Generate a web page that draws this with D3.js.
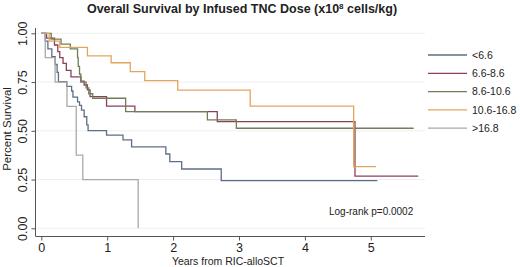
<!DOCTYPE html>
<html>
<head>
<meta charset="utf-8">
<script src="https://cdn.jsdelivr.net/npm/d3@7"></script>
<style>
  body { margin: 0; background: #fff; }
  svg text { font-family: "Liberation Sans", Arial, sans-serif; fill: #222; }
</style>
</head>
<body>
<div id="chart"></div>
<script>
// Kaplan-Meier steps: [years, survival]
const groupNames = ["<6.6", "6.6-8.6", "8.6-10.6", "10.6-16.8", ">16.8"];
const groupColors = ["#5d6e88", "#8c4159", "#707d57", "#e3a55c", "#a9a9a9"];

const stepsLow = [[0,1],[0.06,0.96],[0.10,0.92],[0.16,0.88],[0.21,0.84],[0.24,0.80],[0.26,0.752],
  [0.385,0.728],[0.46,0.704],[0.48,0.673],[0.55,0.648],[0.58,0.63],[0.61,0.606],[0.65,0.572],
  [0.69,0.53],[0.71,0.501],[0.99,0.478],[1.24,0.453],[1.37,0.418],[1.89,0.381],[1.95,0.342],
  [2.13,0.304],[2.73,0.244],[5.10,0.244]];
const stepsMid = [[0,1],[0.08,0.975],[0.20,0.94],[0.25,0.906],[0.28,0.875],[0.33,0.846],[0.38,0.81],
  [0.45,0.777],[0.60,0.755],[0.65,0.735],[0.70,0.71],[0.74,0.675],[0.99,0.627],[1.42,0.598],
  [2.67,0.547],[4.76,0.268],[5.72,0.268]];
const stepsHigh = [[0,1],[0.15,0.97],[0.30,0.945],[0.44,0.92],[0.55,0.875],[0.56,0.83],[0.58,0.79],
  [0.60,0.75],[0.68,0.72],[0.72,0.69],[0.78,0.667],[1.28,0.598],[2.52,0.556],[2.96,0.513],[5.65,0.513]];
const stepsHigher = [[0,1],[0.12,0.96],[0.28,0.928],[0.70,0.884],[1.06,0.849],[1.35,0.803],
  [1.57,0.757],[2.07,0.709],[3.17,0.627],[4.74,0.316],[5.08,0.316]];
const stepsTop = [[0,1],[0.06,0.875],[0.21,0.75],[0.39,0.625],[0.53,0.375],[0.63,0.25],[1.47,0],[1.47,0]];

const xTicks = [0, 1, 2, 3, 4, 5];
const yTicks = [0, 0.25, 0.5, 0.75, 1];

const allSteps = [stepsLow, stepsMid, stepsHigh, stepsHigher, stepsTop];

const W = 520, H = 267;
const svg = d3.select("#chart").append("svg").attr("width", W).attr("height", H);

// scales: 0 yr at x=41, 5 yr at x=371 ; 1.0 at y=33, 0 at y=228
const x = d3.scaleLinear().domain([0, 5]).range([41.3, 370.8]);
const y = d3.scaleLinear().domain([0, 1]).range([228.3, 33.3]);

const plotLeft = 35.5, plotRight = 425, axisY = 236.5;

// gridlines
svg.append("g").selectAll("line").data(yTicks).enter().append("line")
  .attr("x1", plotLeft).attr("x2", plotRight)
  .attr("y1", d => y(d)).attr("y2", d => y(d))
  .attr("stroke", "#efefef").attr("stroke-width", 1);

// y axis, labels turned sideways
const yAxis = d3.axisLeft(y).tickValues(yTicks).tickFormat(d3.format(".2f")).tickSize(4).tickSizeOuter(0);
const gy = svg.append("g").attr("transform", "translate(" + plotLeft + ",0)").call(yAxis);
gy.select(".domain").attr("d", "M0,28V" + axisY).attr("stroke", "#555");
gy.selectAll(".tick line").attr("stroke", "#555");
gy.selectAll(".tick text")
  .attr("transform", "rotate(-90)")
  .attr("x", 0).attr("y", -9).attr("dy", 0)
  .style("font-size", "12.5px").style("text-anchor", "middle");

// x axis
const xAxis = d3.axisBottom(x).tickValues(xTicks).tickFormat(d3.format("d")).tickSize(4).tickSizeOuter(0);
const gx = svg.append("g").attr("transform", "translate(0," + axisY + ")").call(xAxis);
gx.select(".domain").attr("d", "M" + plotLeft + ",0H" + plotRight).attr("stroke", "#555");
gx.selectAll(".tick line").attr("stroke", "#555");
gx.selectAll(".tick text").attr("y", 7).style("font-size", "12.5px");

// curves
const line = d3.line().x(d => x(d[0])).y(d => y(d[1])).curve(d3.curveStepAfter);
svg.append("g").selectAll("path").data(allSteps).enter().append("path")
  .attr("d", line)
  .attr("fill", "none")
  .attr("stroke", (d, i) => groupColors[i])
  .attr("stroke-width", 1.3);

// titles
svg.append("text").attr("x", 242).attr("y", 13).attr("text-anchor", "middle")
  .style("font-size", "12.5px").style("font-weight", "bold")
  .html('Overall Survival by Infused TNC Dose (x10<tspan dy="-4" font-size="8px">8</tspan><tspan dy="4"> cells/kg)</tspan>');

svg.append("text").attr("x", 228).attr("y", 265).attr("text-anchor", "middle")
  .style("font-size", "10.5px").text("Years from RIC-alloSCT");

svg.append("text").attr("transform", "translate(11,129) rotate(-90)").attr("text-anchor", "middle")
  .style("font-size", "11.5px").text("Percent Survival");

svg.append("text").attr("x", 329).attr("y", 215)
  .style("font-size", "10px").text("Log-rank p=0.0002");

// legend
const legend = svg.selectAll(".legendRow").data(groupNames).enter().append("g")
  .attr("class", "legendRow")
  .attr("transform", (d, i) => "translate(428," + (55 + i * 18.3) + ")");
legend.append("line").attr("x1", 0).attr("x2", 39).attr("y1", 0).attr("y2", 0)
  .attr("stroke", (d, i) => groupColors[i]).attr("stroke-width", 1.3);
legend.append("text").attr("x", 44).attr("y", 3.7).style("font-size", "10.5px").text(d => d);
</script>
</body>
</html>
